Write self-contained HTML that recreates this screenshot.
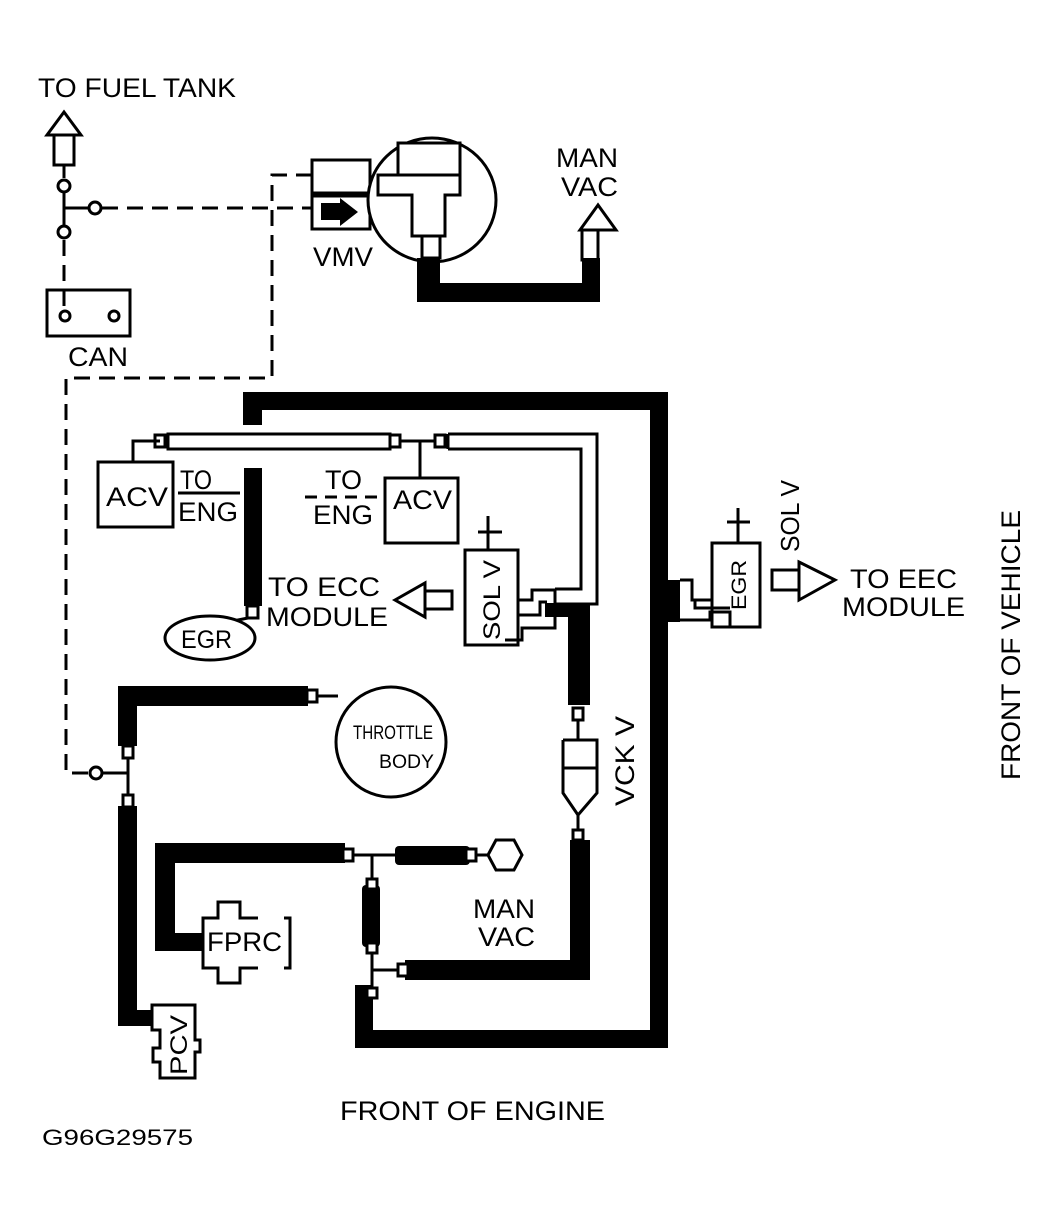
<!DOCTYPE html>
<html><head><style>
html,body{margin:0;padding:0;background:#fff;}
svg{display:block;}
text{font-family:"Liberation Sans",sans-serif;fill:#000;}
</style></head><body>
<svg width="1054" height="1221" viewBox="0 0 1054 1221" xmlns="http://www.w3.org/2000/svg">
<g fill="none" stroke="#000" stroke-width="3">
<polygon points="64,112 47,135 81,135" fill="#fff"/>
<rect x="54" y="135" width="20" height="30" fill="#fff"/>
<line x1="64" y1="165" x2="64" y2="178"/>
<circle cx="64" cy="186" r="6"/>
<line x1="64" y1="192" x2="64" y2="226"/>
<line x1="64" y1="208" x2="88" y2="208"/>
<circle cx="95" cy="208" r="6"/>
<circle cx="64" cy="232" r="6"/>
<rect x="47" y="290" width="83" height="46" fill="#fff"/>
<circle cx="65" cy="316" r="5"/><circle cx="114" cy="316" r="5"/>
<g stroke-dasharray="16,9">
<line x1="102" y1="208" x2="312" y2="208"/>
<line x1="64" y1="240" x2="64" y2="312"/>
<polyline points="312,175 272,175 272,378 66,378 66,773 89,773"/>
</g>
<circle cx="96" cy="773" r="6"/>
<line x1="102" y1="773" x2="128" y2="773"/>
<rect x="312" y="160" width="58" height="33" fill="#fff"/>
<rect x="312" y="196" width="58" height="33" fill="#fff"/>
<ellipse cx="432" cy="200" rx="64" ry="62" fill="#fff"/>
<polygon points="398,143 460,143 460,175 460,195 445,195 445,236 412,236 412,195 378,195 378,175 398,175" fill="#fff"/>
<line x1="398" y1="175" x2="460" y2="175"/>
<rect x="422" y="236" width="18" height="22" fill="#fff"/>
<polygon points="598,205 580,230 616,230" fill="#fff"/>
<rect x="582" y="230" width="16" height="30" fill="#fff"/>
</g>
<polygon points="321,203 340,203 340,198 358,212 340,226 340,220 321,220" fill="#000"/>
<path d="M417,258 H440 V283 H582 V258 H600 V302 H417 Z" fill="#000"/>

<g fill="#000">
<rect x="243" y="392" width="425" height="18"/>
<rect x="243" y="392" width="19" height="33"/>
<rect x="650" y="392" width="18" height="656"/>
<rect x="355" y="1030" width="313" height="18"/>
<rect x="355" y="985" width="18" height="63"/>
<rect x="244" y="468" width="18" height="138"/>
<rect x="545" y="603" width="45" height="14"/>
<rect x="568" y="603" width="22" height="102"/>
<rect x="570" y="840" width="20" height="140"/>
<rect x="405" y="960" width="185" height="20"/>
<rect x="118" y="686" width="190" height="20"/>
<rect x="118" y="686" width="19" height="60"/>
<rect x="118" y="806" width="19" height="220"/>
<rect x="118" y="1010" width="40" height="16"/>
<rect x="155" y="843" width="190" height="20"/>
<rect x="155" y="843" width="20" height="108"/>
<rect x="155" y="933" width="48" height="18"/>
<rect x="395" y="846" width="75" height="19" rx="4"/>
<rect x="362" y="885" width="18" height="62" rx="4"/>
<rect x="668" y="580" width="12" height="42"/>
</g>

<g fill="none" stroke="#000" stroke-width="3">
<rect x="168" y="434" width="222" height="15" fill="#fff"/>
<rect x="155" y="435" width="10" height="12" fill="#fff"/>
<rect x="390" y="435" width="10" height="12" fill="#fff"/>
<line x1="400" y1="441" x2="435" y2="441"/>
<rect x="435" y="435" width="10" height="12" fill="#fff"/>
<polyline points="448,434 597,434 597,604 555,604"/>
<polyline points="448,449 581,449 581,589 555,589"/>
<line x1="448" y1="434" x2="448" y2="449"/>
<polyline points="160,441 133,441 133,462"/>
<rect x="98" y="462" width="75" height="65" fill="#fff"/>
<line x1="178" y1="493" x2="240" y2="493"/>
<line x1="420" y1="441" x2="420" y2="478"/>
<rect x="385" y="478" width="73" height="65" fill="#fff"/>
<line x1="305" y1="497" x2="385" y2="497" stroke-dasharray="12,8"/>
<rect x="247" y="606" width="11" height="12" fill="#fff"/>
<line x1="248" y1="618" x2="228" y2="622"/>
<ellipse cx="210" cy="638" rx="45" ry="22" fill="#fff"/>
<polygon points="395,600 425,583 425,617" fill="#fff"/>
<rect x="425" y="591" width="27" height="18" fill="#fff"/>
<line x1="488" y1="516" x2="488" y2="550"/>
<line x1="478" y1="532" x2="502" y2="532"/>
<rect x="465" y="550" width="53" height="95" fill="#fff"/>
<polyline points="518,600 532,600 532,590 555,590 555,628 522,628 522,640 505,640"/>
<polyline points="518,615 540,615 540,602 547,602"/>
<rect x="573" y="708" width="10" height="12" fill="#fff"/>
<line x1="578" y1="720" x2="578" y2="740"/>
<polyline points="563,740 597,740 597,768 563,768 563,740"/>
<polyline points="563,768 563,793 578,815 597,793 597,768"/>
<line x1="578" y1="815" x2="578" y2="830"/>
<rect x="573" y="830" width="10" height="10" fill="#fff"/>
<line x1="738" y1="508" x2="738" y2="543"/>
<line x1="727" y1="522" x2="750" y2="522"/>
<rect x="712" y="543" width="48" height="84" fill="#fff"/>
<polyline points="680,580 692,580 692,600 712,600"/>
<polyline points="680,620 710,620 710,612 730,612 730,627"/>
<polyline points="695,600 695,608 730,608"/>
<rect x="772" y="570" width="27" height="20" fill="#fff"/>
<polygon points="799,562 835,580 799,600" fill="#fff"/>
<rect x="307" y="690" width="10" height="12" fill="#fff"/>
<line x1="317" y1="696" x2="338" y2="696"/>
<circle cx="391" cy="742" r="55" fill="#fff"/>
<rect x="123" y="746" width="10" height="12" fill="#fff"/>
<line x1="128" y1="758" x2="128" y2="795"/>
<rect x="123" y="795" width="10" height="12" fill="#fff"/>
<path d="M152,1005 H195 V1040 H200 V1052 H195 V1078 H160 V1062 H153 V1048 H160 V1030 H152 Z" fill="#fff"/>
<path d="M258,918 H240 V902 H218 V918 H203 V968 H218 V983 H240 V968 H258"/>
<path d="M284,918 H290 V968 H284"/>
<rect x="343" y="849" width="10" height="12" fill="#fff"/>
<line x1="353" y1="855" x2="395" y2="855"/>
<line x1="372" y1="855" x2="372" y2="885"/>
<rect x="367" y="879" width="10" height="10" fill="#fff"/>
<rect x="367" y="943" width="10" height="10" fill="#fff"/>
<line x1="372" y1="953" x2="372" y2="988"/>
<line x1="372" y1="970" x2="400" y2="970"/>
<rect x="398" y="964" width="10" height="12" fill="#fff"/>
<rect x="367" y="988" width="10" height="10" fill="#fff"/>
<rect x="466" y="849" width="10" height="12" fill="#fff"/>
<line x1="476" y1="855" x2="488" y2="855"/>
<polygon points="488,855 496,840 514,840 522,855 514,870 496,870" fill="#fff"/>
</g>

<g font-size="27">
<text x="38" y="97" textLength="198" lengthAdjust="spacingAndGlyphs">TO FUEL TANK</text>
<text x="556" y="167" textLength="62" lengthAdjust="spacingAndGlyphs">MAN</text>
<text x="561" y="196" textLength="57" lengthAdjust="spacingAndGlyphs">VAC</text>
<text x="313" y="266" textLength="60" lengthAdjust="spacingAndGlyphs">VMV</text>
<text x="68" y="366" textLength="60" lengthAdjust="spacingAndGlyphs">CAN</text>
<text x="106" y="506" textLength="62" lengthAdjust="spacingAndGlyphs">ACV</text>
<text x="180" y="489" textLength="32" lengthAdjust="spacingAndGlyphs">TO</text>
<text x="178" y="521" textLength="60" lengthAdjust="spacingAndGlyphs">ENG</text>
<text x="325" y="489" textLength="37" lengthAdjust="spacingAndGlyphs">TO</text>
<text x="313" y="524" textLength="60" lengthAdjust="spacingAndGlyphs">ENG</text>
<text x="393" y="509" textLength="59" lengthAdjust="spacingAndGlyphs">ACV</text>
<text x="268" y="596" textLength="112" lengthAdjust="spacingAndGlyphs">TO ECC</text>
<text x="266" y="626" textLength="122" lengthAdjust="spacingAndGlyphs">MODULE</text>
<text x="850" y="588" textLength="107" lengthAdjust="spacingAndGlyphs">TO EEC</text>
<text x="842" y="616" textLength="123" lengthAdjust="spacingAndGlyphs">MODULE</text>
<text x="473" y="918" textLength="62" lengthAdjust="spacingAndGlyphs">MAN</text>
<text x="478" y="946" textLength="57" lengthAdjust="spacingAndGlyphs">VAC</text>
<text x="340" y="1120" textLength="265" lengthAdjust="spacingAndGlyphs">FRONT OF ENGINE</text>
<text x="42" y="1145" font-size="22" textLength="151" lengthAdjust="spacingAndGlyphs">G96G29575</text>
<text x="207" y="951" textLength="75" lengthAdjust="spacingAndGlyphs">FPRC</text>
</g>
<text x="181" y="648" font-size="25" textLength="51" lengthAdjust="spacingAndGlyphs">EGR</text>
<text x="353" y="739" font-size="19" textLength="80" lengthAdjust="spacingAndGlyphs">THROTTLE</text>
<text x="379" y="768" font-size="19" textLength="55" lengthAdjust="spacingAndGlyphs">BODY</text>
<text transform="translate(500,640) rotate(-90)" font-size="24" textLength="80" lengthAdjust="spacingAndGlyphs">SOL V</text>
<text transform="translate(746,610) rotate(-90)" font-size="21" textLength="50" lengthAdjust="spacingAndGlyphs">EGR</text>
<text transform="translate(799,552) rotate(-90)" font-size="26" textLength="72" lengthAdjust="spacingAndGlyphs">SOL V</text>
<text transform="translate(634,806) rotate(-90)" font-size="27" textLength="90" lengthAdjust="spacingAndGlyphs">VCK V</text>
<text transform="translate(1020,780) rotate(-90)" font-size="27" textLength="270" lengthAdjust="spacingAndGlyphs">FRONT OF VEHICLE</text>
<text transform="translate(187,1075) rotate(-90)" font-size="24" textLength="60" lengthAdjust="spacingAndGlyphs">PCV</text>
</svg>
</body></html>
